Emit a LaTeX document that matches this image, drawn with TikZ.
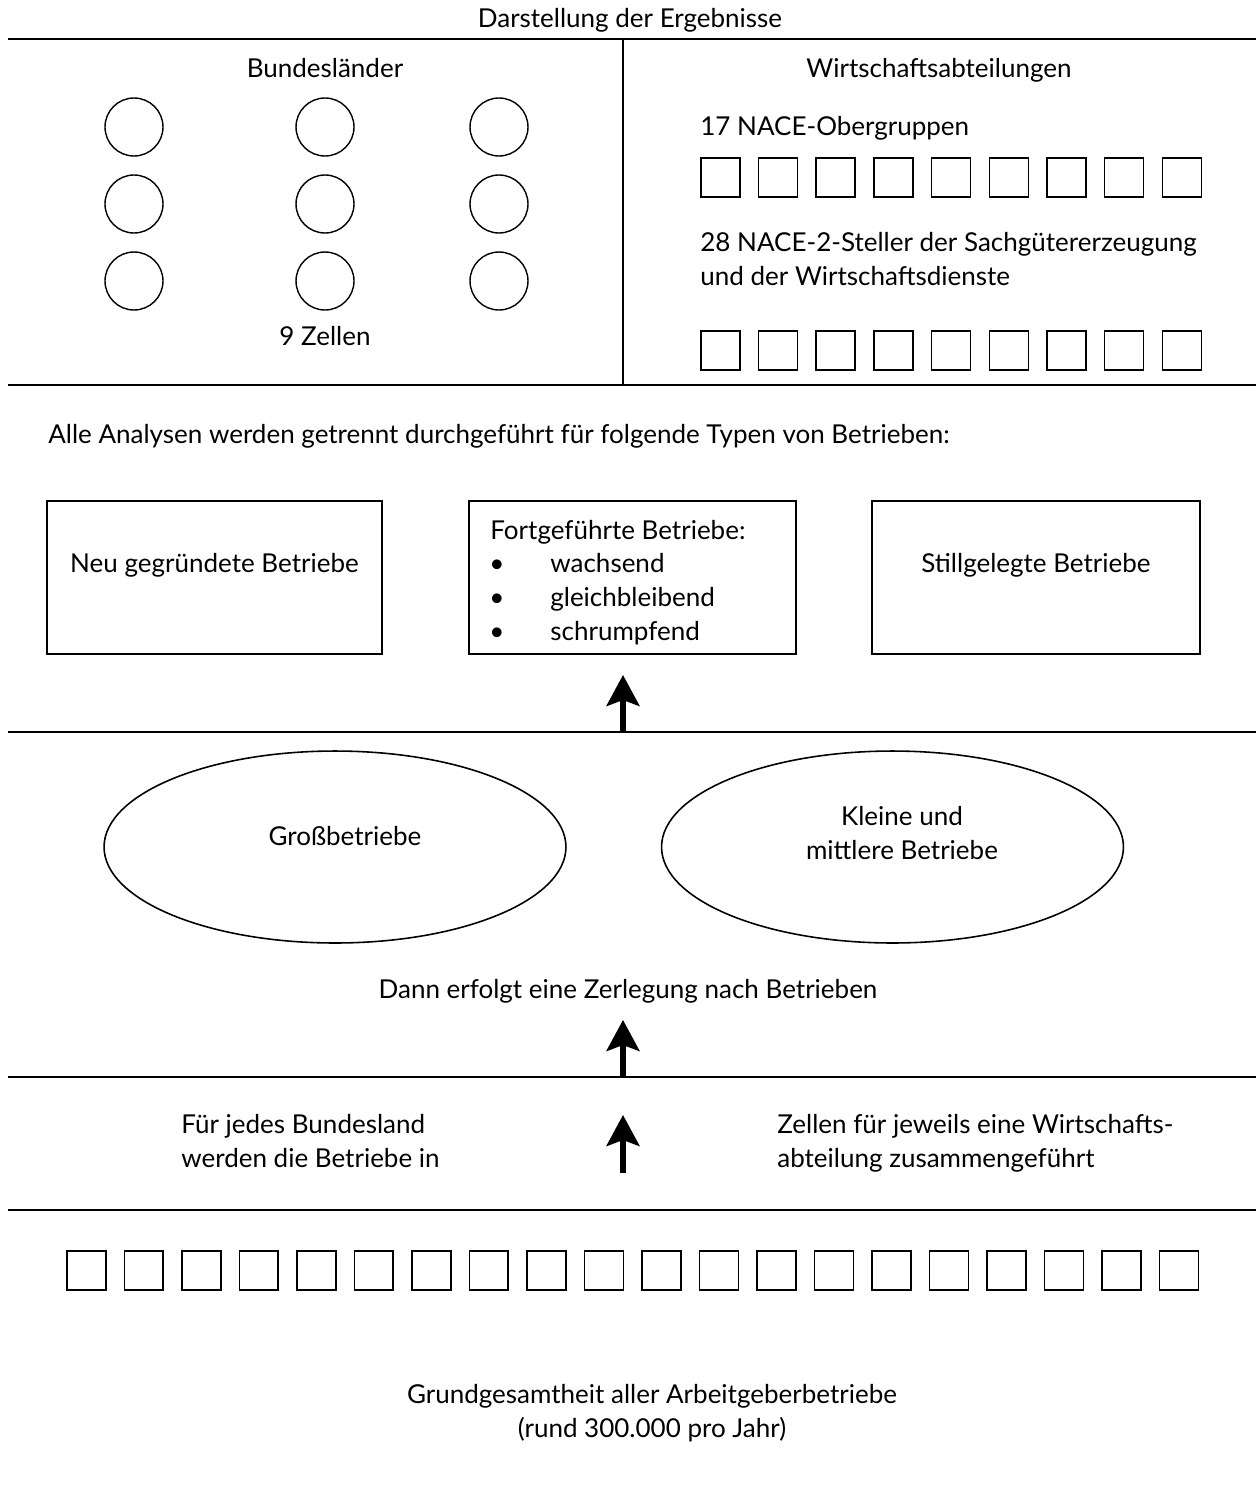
\documentclass[tikz,border=0pt]{standalone}
\usepackage{fontspec}
\setmainfont{Lato}
\usetikzlibrary{arrows.meta,shapes.geometric}

\begin{document}
\begin{tikzpicture}[x=0.02cm,y=-0.02cm,
  txt/.style={font=\fontsize{14.8}{19}\selectfont, inner sep=0pt, anchor=base},
  txtl/.style={txt, anchor=base west},
  rule/.style={line width=1.1pt},
  cell/.style={draw, line width=0.9pt, minimum size=0.78cm, inner sep=0pt, anchor=north west},
  land/.style={draw, circle, line width=0.8pt, minimum size=1.16cm, inner sep=0pt},
  typbox/.style={draw, line width=1pt, minimum height=3.06cm, inner sep=0pt},
  groesse/.style={draw, ellipse, line width=0.9pt, minimum width=9.24cm, minimum height=3.84cm, inner sep=0pt},
  upar/.style={-{Stealth[length=6.2mm,width=6.6mm,inset=1.2mm]}, line width=3pt}]
\useasboundingbox (0,0) rectangle (1256,1494);

% Darstellung der Ergebnisse
\node[txt] (titel) at (630,28) {Darstellung der Ergebnisse};
\foreach \y in {39,385,732,1077,1210}
  \draw[rule] (8,\y) -- (1256,\y);
\draw[rule] (623,39) -- (623,385);

\node[txt] (land) at (325,77) {Bundesländer};
\foreach \i/\x in {1/134,2/325,3/499}
  \foreach \j/\y in {1/127,2/204,3/281}
    \node[land] (bl\i\j) at (\x,\y) {};
\node[txt] (zellen) at (325,345) {9 Zellen};

\node[txt] (abt) at (939,77) {Wirtschaftsabteilungen};
\node[txtl] (obg) at (700,135) {17 NACE-Obergruppen};
\node[txtl] (steller) at (700,251) {28 NACE-2-Steller der Sachgütererzeugung};
\node[txtl] (dienste) at (700,285) {und der Wirtschaftsdienste};
\foreach \i in {0,...,8} {
  \node[cell] (og\i) at (700+57.7*\i,157) {};
  \node[cell] (zs\i) at (700+57.7*\i,330) {};
}

% Typen von Betrieben
\node[txtl] (alle) at (48,443) {Alle Analysen werden getrennt durchgeführt für folgende Typen von Betrieben:};
\node[typbox, minimum width=6.7cm] (neu) at (214.5,577.5) {};
\node[typbox, minimum width=6.54cm] (fort) at (632.5,577.5) {};
\node[typbox, minimum width=6.56cm] (still) at (1036,577.5) {};
\node[txt] (neutxt) at (214.5,572) {Neu gegründete Betriebe};
\node[txt] (stilltxt) at (1036,572) {Stillgelegte Betriebe};
\node[txtl] (forttxt) at (490,539) {Fortgeführte Betriebe:};
\foreach \t/\y in {wachsend/572,gleichbleibend/606,schrumpfend/640} {
  \node[txt] at (497,\y) {\textbullet};
  \node[txtl] (\t) at (550,\y) {\t};
}
\coordinate (a1) at (623,732);
\coordinate (a1e) at (623,675);
\draw[upar] (a1) -- (a1e);

% Zerlegung nach Betrieben
\node[groesse] (gross) at (335,847) {};
\node[groesse] (klein) at (892.5,847) {};
\node[txt] (grosstxt) at (345,845) {Großbetriebe};
\node[txt] (kleintxt) at (902,825) {Kleine und};
\node[txt] (mitteltxt) at (902,859) {mittlere Betriebe};
\node[txt] (dann) at (628,998) {Dann erfolgt eine Zerlegung nach Betrieben};
\coordinate (a2) at (623,1077);
\coordinate (a2e) at (623,1020);
\draw[upar] (a2) -- (a2e);

% Zusammenfuehrung
\node[txtl] (fuer) at (181,1133) {Für jedes Bundesland};
\node[txtl] (werden) at (181,1167) {werden die Betriebe in};
\node[txtl] (zellenf) at (777,1133) {Zellen für jeweils eine Wirtschafts-};
\node[txtl] (abteil) at (777,1167) {abteilung zusammengeführt};
\coordinate (a3) at (623,1173);
\coordinate (a3e) at (623,1115);
\draw[upar] (a3) -- (a3e);

% Grundgesamtheit
\foreach \i in {0,...,19}
  \node[cell] (gg\i) at (66+57.5*\i,1250) {};
\node[txt] (grund) at (652,1403) {Grundgesamtheit aller Arbeitgeberbetriebe};
\node[txt] (rund) at (652,1437) {(rund 300.000 pro Jahr)};
\end{tikzpicture}
\end{document}
